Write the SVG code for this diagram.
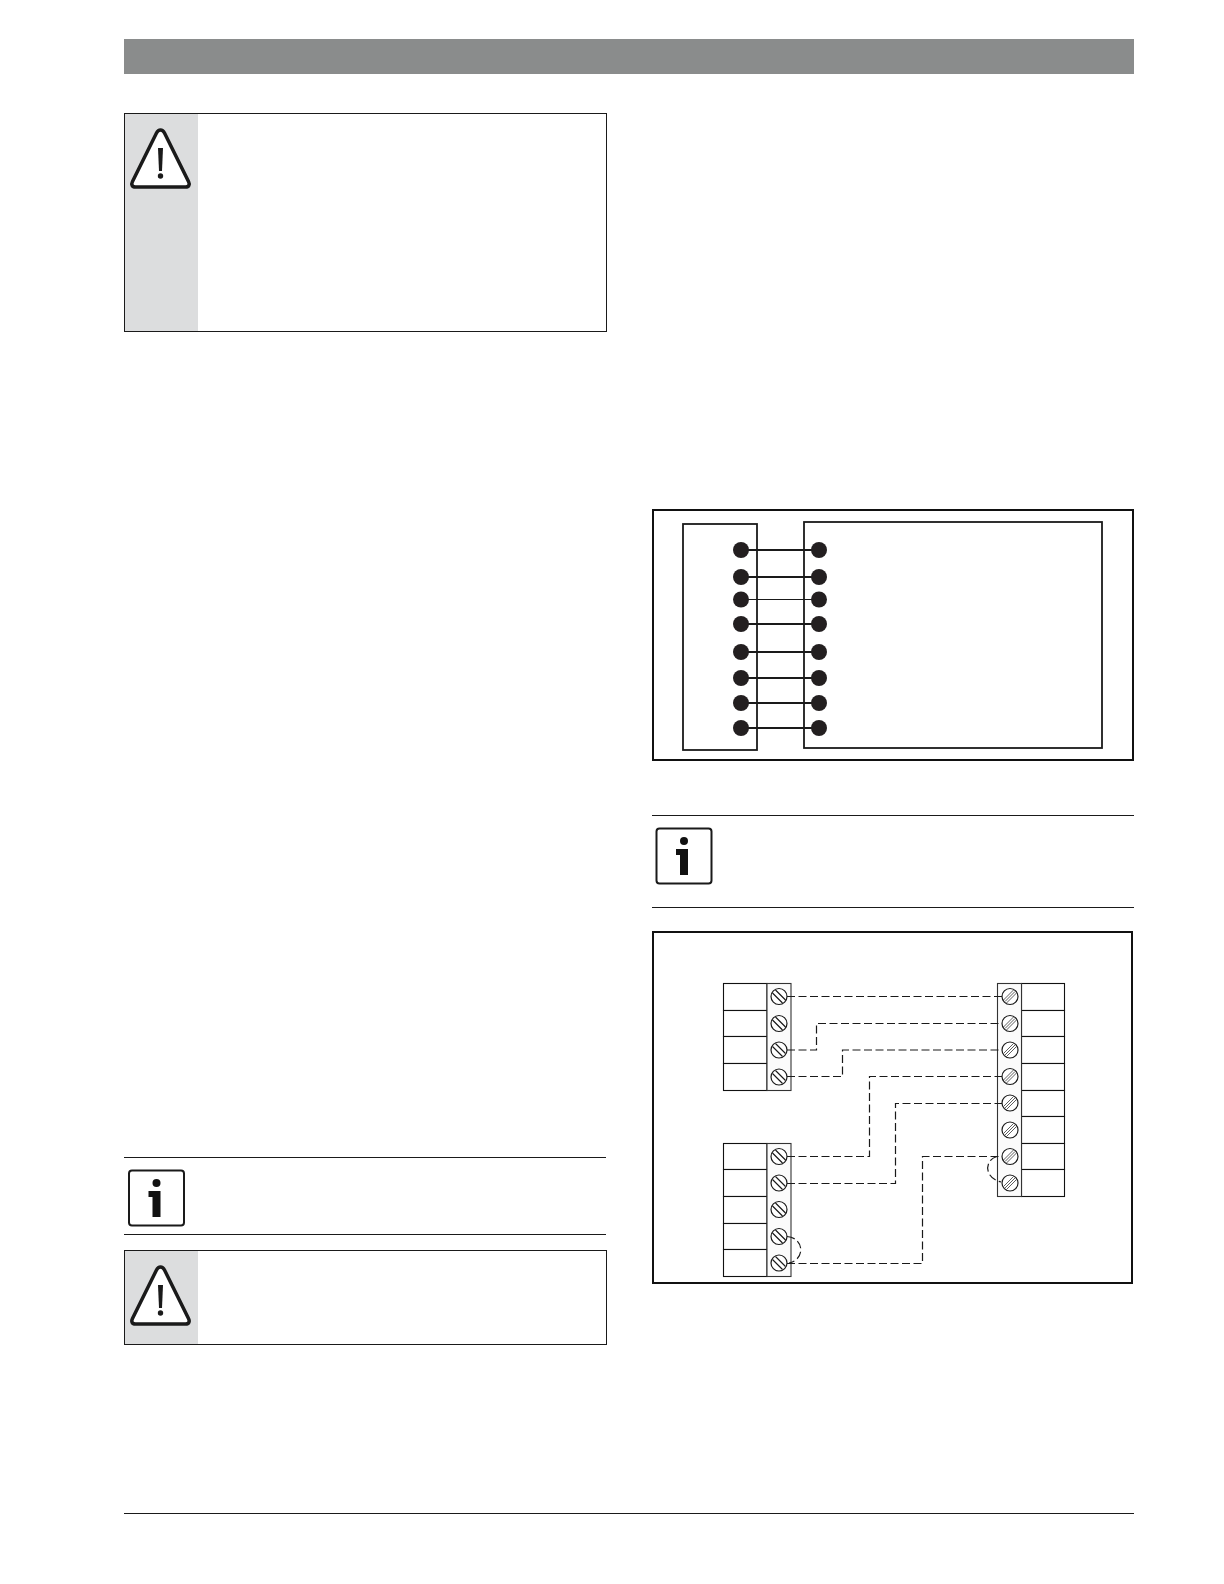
<svg xmlns="http://www.w3.org/2000/svg" width="1224" height="1584" viewBox="0 0 1224 1584">
<defs>
<g id="warn"><path d="M0-49c2 0 3 1 4 3L28 2.500c1.500 3 .5 5.500-3 5.500H-25c-3.500 0-4.500-2.500-3-5.500L-4-46c1-2 2-3 4-3z" fill="#fff" stroke="#1a1a1a" stroke-width="3.500"/><path d="M-2.500-31h5l-1 23h-3z" fill="#1a1a1a"/><circle cy="-3" r="2.700" fill="#1a1a1a"/></g>
<g id="info"><rect x="-27.500" y="-27.500" width="55" height="55" rx="3" fill="#fff" stroke="#1a1a1a" stroke-width="2"/><circle cy="-15" r="4" fill="#111"/><path d="M-8-7H4V19H-4V-1H-8z" fill="#111"/></g>
<g id="screwL"><circle r="8" fill="#fff" stroke="#1a1a1a" stroke-width="1.200"/><path d="M-6.500-3.500L3.500 6.500M-3.500-6.500L6.500 3.500" stroke="#1a1a1a" stroke-width="1.200" fill="none"/></g>
<g id="screwR"><circle r="8" fill="#fff" stroke="#1a1a1a" stroke-width="1.200"/><path d="M-6.500 3.500L3.500-6.500M-5 5L5-5M-3.500 6.500L6.500-3.500" stroke="#1a1a1a" stroke-width=".7" fill="none"/></g>
</defs>
<style>
.box{fill:none;stroke:#1a1a1a;stroke-width:1}
.frame{fill:#fff;stroke:#111;stroke-width:2}
.part{fill:#fff;stroke:#1a1a1a;stroke-width:1.800}
.rule{stroke:#1a1a1a;stroke-width:1;fill:none}
.wire{stroke:#1a1a1a;stroke-width:1.800;fill:none}
.dash{stroke:#1a1a1a;stroke-width:1.200;fill:none;stroke-dasharray:8 3.500}
.dot{fill:#231f20}
.cell{fill:#fff;stroke:#111;stroke-width:1.100}
.strip{fill:#fbfbfb;stroke:#333;stroke-width:1.100}
</style>
<rect width="1224" height="1584" fill="#fff"/>
<rect id="header" x="124" y="39" width="1010" height="35" fill="#8a8c8c"/>
<g id="warning-top"><rect x="125" y="114" width="73" height="217" fill="#dcddde"/><rect class="box" x="124.500" y="113.500" width="482" height="218"/><use href="#warn" x="160.500" y="179"/></g>
<g id="info-left"><path class="rule" d="M124 1157.500H606M124 1234.500H606"/><use href="#info" x="156.500" y="1198"/></g>
<g id="warning-bottom"><rect x="125" y="1251" width="73" height="93" fill="#dcddde"/><rect class="box" x="124.500" y="1250.500" width="482" height="94"/><use href="#warn" x="160.500" y="1316"/></g>
<g id="info-right"><path class="rule" d="M652 815.500H1134M652 907.500H1134"/><use href="#info" x="684" y="856"/></g>
<g id="bus-diagram">
<rect class="frame" x="653" y="510" width="480" height="250"/>
<rect class="part" x="683" y="524" width="74" height="226"/>
<rect class="part" x="804" y="522" width="298" height="226"/>
<g id="bus-connectors" class="wire">
<path d="M741 550H819M741 577H819M741 624H819M741 652H819M741 678H819M741 703H819M741 728H819"/><path d="M741 599.500H819" stroke-width="1"/>
</g>
<g class="dot"><circle cx="741" cy="550" r="8"/><circle cx="741" cy="577" r="8"/><circle cx="741" cy="599.500" r="8"/><circle cx="741" cy="624" r="8"/><circle cx="741" cy="652" r="8"/><circle cx="741" cy="678" r="8"/><circle cx="741" cy="703" r="8"/><circle cx="741" cy="728" r="8"/>
<circle cx="819" cy="550" r="8"/><circle cx="819" cy="577" r="8"/><circle cx="819" cy="599.500" r="8"/><circle cx="819" cy="624" r="8"/><circle cx="819" cy="652" r="8"/><circle cx="819" cy="678" r="8"/><circle cx="819" cy="703" r="8"/><circle cx="819" cy="728" r="8"/></g>
</g>
<g id="wiring-diagram">
<rect class="frame" x="653" y="932" width="479" height="351"/>
<g id="terminal-a"><rect class="cell" x="723.500" y="983.500" width="43.500" height="27"/><rect class="cell" x="723.500" y="1010.500" width="43.500" height="26"/><rect class="cell" x="723.500" y="1036.500" width="43.500" height="27"/><rect class="cell" x="723.500" y="1063.500" width="43.500" height="27"/><rect class="strip" x="767" y="983.500" width="24" height="107"/>
<use href="#screwL" x="779" y="996.500"/><use href="#screwL" x="779" y="1023.500"/><use href="#screwL" x="779" y="1050"/><use href="#screwL" x="779" y="1077"/></g>
<g id="terminal-b"><rect class="cell" x="723.500" y="1143.500" width="43.500" height="26"/><rect class="cell" x="723.500" y="1169.500" width="43.500" height="27"/><rect class="cell" x="723.500" y="1196.500" width="43.500" height="27"/><rect class="cell" x="723.500" y="1223.500" width="43.500" height="26"/><rect class="cell" x="723.500" y="1249.500" width="43.500" height="27"/><rect class="strip" x="767" y="1143.500" width="24" height="133"/>
<use href="#screwL" x="779" y="1156.500"/><use href="#screwL" x="779" y="1183"/><use href="#screwL" x="779" y="1209.500"/><use href="#screwL" x="779" y="1236.500"/><use href="#screwL" x="779" y="1263"/></g>
<g id="terminal-c"><rect class="cell" x="1021.500" y="983.500" width="43" height="27"/><rect class="cell" x="1021.500" y="1010.500" width="43" height="26"/><rect class="cell" x="1021.500" y="1036.500" width="43" height="27"/><rect class="cell" x="1021.500" y="1063.500" width="43" height="27"/><rect class="cell" x="1021.500" y="1090.500" width="43" height="26"/><rect class="cell" x="1021.500" y="1116.500" width="43" height="27"/><rect class="cell" x="1021.500" y="1143.500" width="43" height="26"/><rect class="cell" x="1021.500" y="1169.500" width="43" height="27"/><rect class="strip" x="997.500" y="983.500" width="24" height="213"/>
<use href="#screwR" x="1010" y="996.500"/><use href="#screwR" x="1010" y="1023.500"/><use href="#screwR" x="1010" y="1050"/><use href="#screwR" x="1010" y="1076.500"/><use href="#screwR" x="1010" y="1103"/><use href="#screwR" x="1010" y="1130"/><use href="#screwR" x="1010" y="1156.500"/><use href="#screwR" x="1010" y="1183"/></g>
<g id="wiring-connectors" class="dash">
<path d="M787 996.500H1002"/>
<path d="M787 1050H816.500V1023.500H1002"/>
<path d="M787 1076.500H842.500V1050H1002"/>
<path d="M787 1156.500H869.500V1076.500H1002"/>
<path d="M787 1183.500H895.500V1103.500H1002"/>
<path d="M787 1263.500H922.500V1156.500H1002"/>
<path d="M787 1236.500C805 1238 805 1260 789 1263"/>
<path d="M997 1156.500C984 1160 984 1178 1001 1182"/>
</g>
</g>
<path id="footer-rule" class="rule" d="M124 1513.500H1134"/>
</svg>
